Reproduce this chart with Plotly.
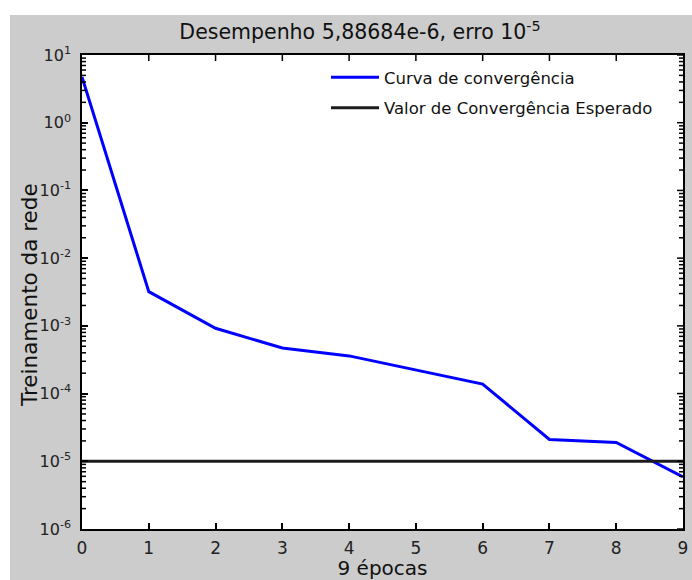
import plotly.graph_objects as go

# Training record of the network (performance per epoch, log scale)
epocas = [0, 1, 2, 3, 4, 5, 6, 7, 8, 9]
desempenho = [4.73, 3.2e-3, 9.2e-4, 4.7e-4, 3.6e-4, 2.25e-4, 1.38e-4, 2.1e-5, 1.9e-5, 5.88684e-6]
meta_erro = 1e-5

nome_curva = "Curva de convergência"
nome_meta = "Valor de Convergência Esperado"
titulo = "Desempenho 5,88684e-6, erro 10<sup>-5</sup>"
titulo_x = "9 épocas"
titulo_y = "Treinamento da rede"

expoentes_y = [-6, -5, -4, -3, -2, -1, 0, 1]
rotulos_y = ["10<sup>%d</sup>" % e for e in expoentes_y]

W, H = 692, 580
ML, MR, MT, MB = 82, 9, 55, 51
PW, PH = W - ML - MR, H - MT - MB

FONT = "DejaVu Sans"
CINZA = "#cccccc"
TEXTO = "#111111"
MAJOR_LEN, MINOR_LEN = 6, 4


def px_x(x):
    return (x - ML) / PW


def px_y(y):
    return (H - MB - y) / PH


major_y = [10.0 ** e for e in expoentes_y]
# minor ticks at 2..9 within each decade
minor_y = [m * 10.0 ** e for e in expoentes_y[:-1] for m in range(2, 10)]

fig = go.Figure()

fig.add_trace(go.Scatter(
    x=epocas, y=desempenho, mode="lines", name=nome_curva,
    line=dict(color="#0000ff", width=3), legendgroup="a",
))
fig.add_trace(go.Scatter(
    x=[epocas[0], epocas[-1]], y=[meta_erro, meta_erro], mode="lines", name=nome_meta,
    line=dict(color="#1c1c1c", width=3), legendgroup="b",
))

# white margin strips around the grey figure window
fig.add_shape(type="rect", xref="paper", yref="paper",
              x0=-0.3, x1=1.2, y0=px_y(15), y1=1.3,
              fillcolor="white", line_width=0, layer="below")
fig.add_shape(type="rect", xref="paper", yref="paper",
              x0=-0.3, x1=px_x(10), y0=-0.3, y1=1.3,
              fillcolor="white", line_width=0, layer="below")

# box ticks: top edge (x ticks), right edge (major + minor), left edge (minor)
tick_line = dict(color="#000000", width=1.5)
for xv in epocas[1:-1]:
    fig.add_shape(type="line", xref="x", yref="y domain",
                  x0=xv, x1=xv, y0=1, y1=1 - MAJOR_LEN / PH, line=tick_line, layer="above")
for yv, n in [(v, MAJOR_LEN) for v in major_y] + [(v, MINOR_LEN) for v in minor_y]:
    fig.add_shape(type="line", xref="x domain", yref="y",
                  x0=1, x1=1 - n / PW, y0=yv, y1=yv, line=tick_line, layer="above")
for yv in minor_y:
    fig.add_shape(type="line", xref="x domain", yref="y",
                  x0=0, x1=MINOR_LEN / PW, y0=yv, y1=yv, line=tick_line, layer="above")

axis_common = dict(
    showline=True, linecolor="black", linewidth=1.5, mirror=True,
    ticks="inside", tickcolor="#000000", ticklen=MAJOR_LEN, tickwidth=1.5,
    showgrid=False, zeroline=False, automargin=False,
)

fig.update_layout(
    xaxis=dict(
        range=[0, 9], dtick=1, tick0=0, ticklabelstandoff=3,
        tickfont=dict(family=FONT, size=17, color="#222222"),
        title=dict(text=titulo_x, font=dict(family=FONT, size=20, color=TEXTO), standoff=5),
        **axis_common,
    ),
    yaxis=dict(
        type="log", range=[-6, 1],
        tickmode="array", tickvals=major_y, ticktext=rotulos_y,
        ticklabelstandoff=6,
        tickfont=dict(family=FONT, size=16, color="#222222"),
        **axis_common,
    ),
)

fig.add_annotation(
    text=titulo_y, textangle=-90, xref="paper", yref="paper",
    x=px_x(29), y=px_y(295), xanchor="center", yanchor="middle",
    showarrow=False, font=dict(family=FONT, size=21.5, color=TEXTO),
)

fig.update_layout(
    width=W, height=H,
    margin=dict(l=ML, r=MR, t=MT, b=MB, pad=0, autoexpand=False),
    paper_bgcolor=CINZA, plot_bgcolor="white",
    font=dict(family=FONT, color=TEXTO),
    title=dict(text=titulo, xref="paper", x=px_x(360), xanchor="center",
               yref="container", y=1 - 32 / H, yanchor="middle",
               font=dict(family=FONT, size=20.5, color=TEXTO)),
    legend=dict(x=px_x(326), y=px_y(60), xanchor="left", yanchor="top",
                bgcolor="rgba(0,0,0,0)", borderwidth=0, itemwidth=48,
                font=dict(family=FONT, size=16.5, color=TEXTO),
                traceorder="grouped", tracegroupgap=6),
    showlegend=True,
)

fig.write_html("out.html")
